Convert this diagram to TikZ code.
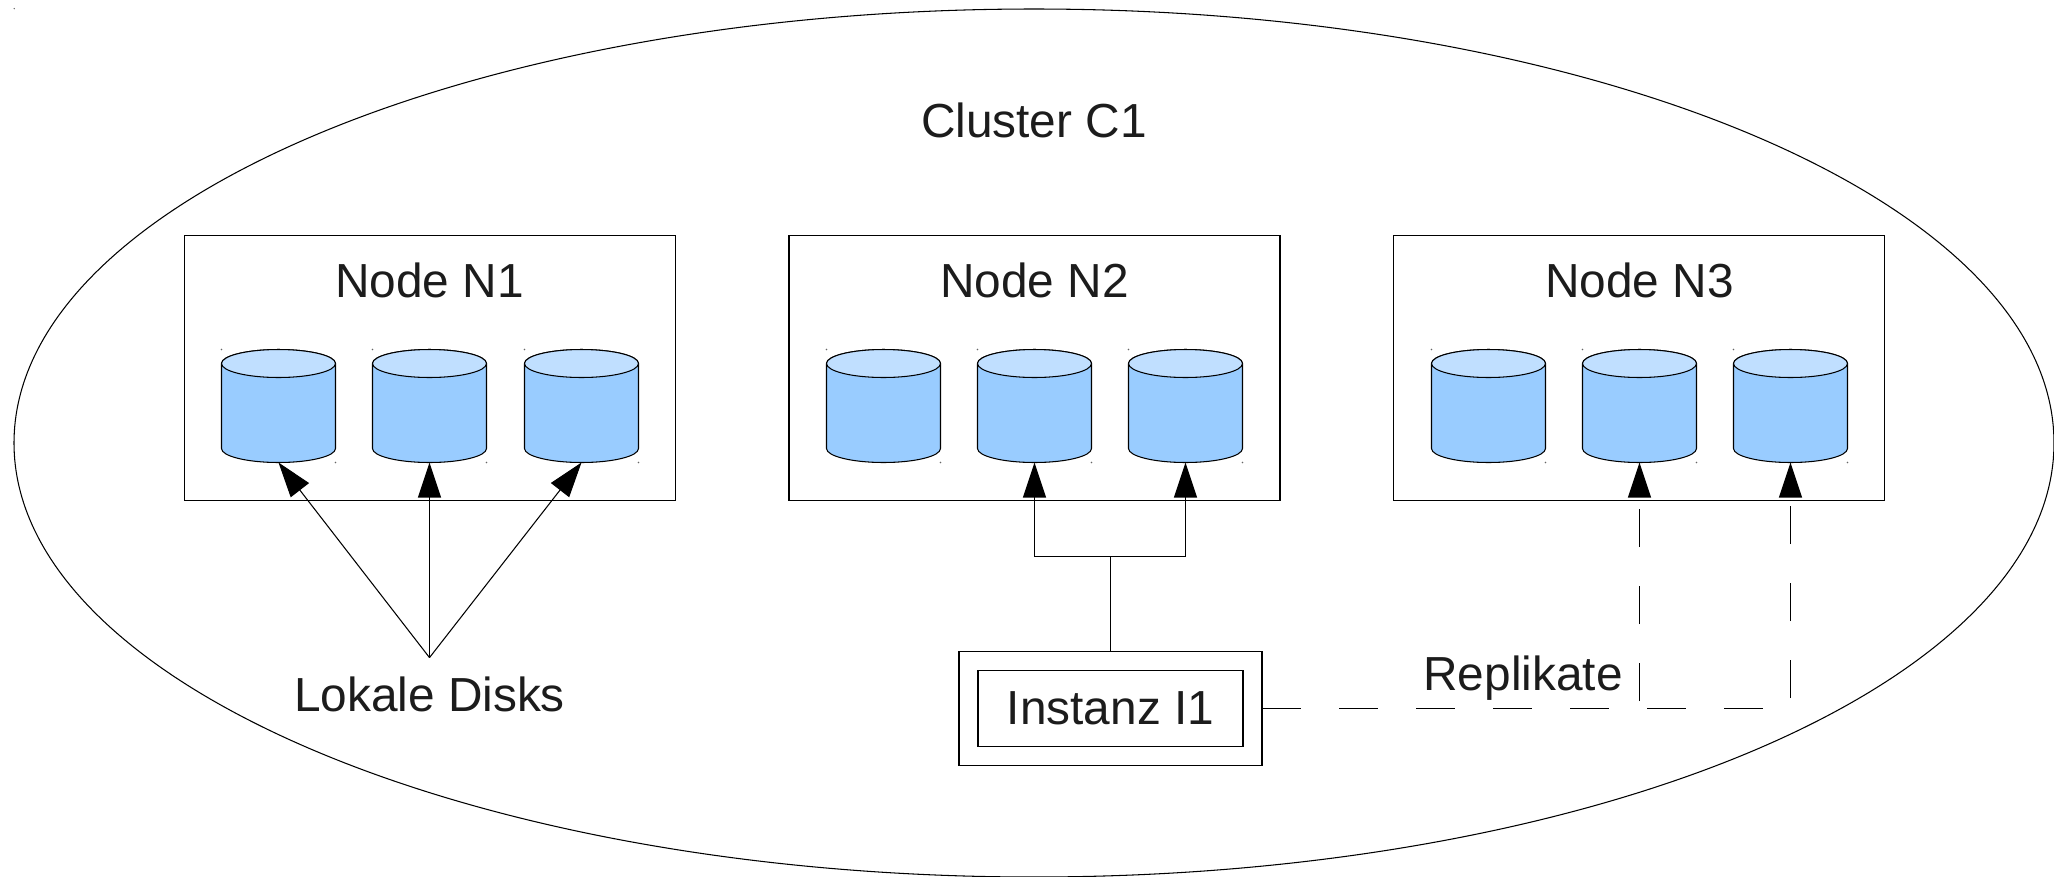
\documentclass[tikz,border=0pt]{standalone}
\usepackage{fontspec}
\setmainfont{Liberation Sans}
\usetikzlibrary{arrows.meta,shapes.geometric}
\definecolor{diskbody}{HTML}{99CCFF}
\definecolor{disktop}{HTML}{C0DFFF}
\definecolor{labelgray}{HTML}{1C1C1C}
\tikzset{
  every node/.style={inner sep=0pt,outer sep=0pt},
  every path/.style={line width=0.3pt},
  title/.style={text=labelgray,font=\fontsize{13.6}{16}\selectfont},
  nodebox/.style={draw=black,minimum width=4.91cm,minimum height=2.65cm},
  disk/.style={minimum width=1.14cm,minimum height=1.13cm},
  diskend/.style={x radius=0.57,y radius=0.14},
  arrow/.style={-{Triangle[length=3.5mm,width=2.3mm]}},
  replica/.style={arrow,dash pattern=on 3.85mm off 3.85mm},
}
\newcommand{\disknode}[2]{
\node [disk] (#1) at (#2) {};
\draw [black,fill=diskbody] ([yshift=-1.4mm]#1.north west) -- ([yshift=1.4mm]#1.south west) arc [start angle=180,end angle=360,diskend] -- ([yshift=-1.4mm]#1.north east) arc [start angle=0,end angle=180,diskend];
\draw [black,fill=disktop] ([yshift=-1.4mm]#1.north) ellipse [diskend];
\fill [black!60] (#1.north west) circle (0.008);
\fill [black!60] (#1.south east) circle (0.008);
}
\begin{document}
\begin{tikzpicture}
\useasboundingbox (0,0) rectangle (20.54,-8.77);
\node [draw=black,ellipse,minimum width=20.4cm,minimum height=8.68cm] (c1) at (10.34,-4.43) {};
\node [title] (c1title) at (10.34,-1.2) {Cluster C1};
\fill [black!60] (0.142,-0.086) circle (0.008);
\node [nodebox] (n1) at (4.3,-3.68) {};
\node [nodebox] (n2) at (10.345,-3.68) {};
\node [nodebox] (n3) at (16.39,-3.68) {};
\node [title] (n1title) at (4.295,-2.8) {Node N1};
\node [title] (n2title) at (10.345,-2.8) {Node N2};
\node [title] (n3title) at (16.395,-2.8) {Node N3};
\disknode{d11}{2.785,-4.06}
\disknode{d12}{4.295,-4.06}
\disknode{d13}{5.815,-4.06}
\disknode{d21}{8.835,-4.06}
\disknode{d22}{10.345,-4.06}
\disknode{d23}{11.855,-4.06}
\disknode{d31}{14.885,-4.06}
\disknode{d32}{16.395,-4.06}
\disknode{d33}{17.905,-4.06}
\coordinate (lokale) at (4.295,-6.576);
\node [title] (disks) at (4.295,-6.946) {Lokale Disks};
\draw [arrow] (lokale) -- (d11.south);
\draw [arrow] (lokale) -- (d12.south);
\draw [arrow] (lokale) -- (d13.south);
\node [draw=black,minimum width=3.03cm,minimum height=1.14cm] (i1box) at (11.105,-7.085) {};
\node [draw=black,title,minimum width=2.65cm,minimum height=0.76cm] (i1) at (11.105,-7.085) {Instanz I1};
\coordinate (fork) at (11.105,-5.565);
\draw (i1box.north) -- (fork);
\draw [arrow] (fork) -| (d22.south);
\draw [arrow] (fork) -| (d23.south);
\node [title] (replikate) at (15.23,-6.78) {Replikate};
\draw [replica] (i1box.east) -| (d32.south);
\draw [replica] (i1box.east) -| (d33.south);
\end{tikzpicture}
\end{document}
